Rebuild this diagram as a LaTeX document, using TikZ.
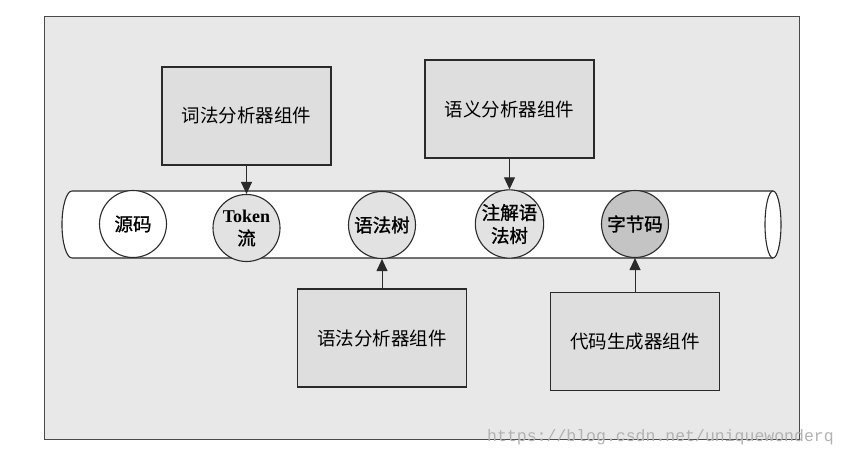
\documentclass[tikz,border=0pt]{standalone}
\usepackage{fontspec}
\setmainfont{Liberation Serif}
\setmonofont{Liberation Mono}
\newfontfamily\cjk{Noto Sans CJK SC}
\newfontfamily\cjkb[FakeBold=1.2]{Noto Sans CJK SC}
\usetikzlibrary{arrows.meta}
\definecolor{framebg}{HTML}{E8E8E8}
\definecolor{boxbg}{HTML}{DEDEDE}
\definecolor{linec}{HTML}{2A2A2A}
\definecolor{lightc}{HTML}{E2E2E2}
\definecolor{darkc}{HTML}{C4C4C4}
\begin{document}
\begin{tikzpicture}[x=1pt,y=-1pt,
  frameline/.style={draw=linec!85, line width=1pt},
  pipeline/.style={draw=linec, line width=1.1pt},
  comp/.style={draw=linec, line width=1.1pt, fill=boxbg, minimum width=169pt, minimum height=98pt, inner sep=0pt, font=\cjk\fontsize{18.5}{20}\selectfont},
  datac/.style={circle, draw=linec, line width=1.1pt, minimum size=67pt, inner sep=0pt, align=center, font=\cjkb\fontsize{18.5}{23}\selectfont},
  flow/.style={-{Triangle[length=12pt,width=11pt]}, draw=linec, line width=1pt}]
\useasboundingbox (0,0) rectangle (848,454);
\fill[white] (0,0) rectangle (848,454);
\draw[frameline, fill=framebg] (44,17) rectangle (799,439);
% pipe
\draw[pipeline, fill=white] (773,191) -- (72,191) arc[start angle=270, end angle=90, x radius=10, y radius=33.5] -- (773,258);
\draw[pipeline, fill=white] (773,224.5) ellipse[x radius=8, y radius=33.5];
% data circles
\node[datac, fill=white] (src) at (133,224) {源码};
\node[datac, fill=lightc] (tok) at (246.5,228) {{\rmfamily\bfseries\fontsize{18}{23}\selectfont Token}\\流};
\node[datac, fill=lightc] (ast) at (382,225) {语法树};
\node[datac, fill=lightc] (aast) at (509.5,224) {注解语\\法树};
\node[datac, fill=darkc] (bc) at (635,224) {字节码};
% components
\node[comp] (lex) at (246.5,116) {词法分析器组件};
\node[comp] (sem) at (509.5,109) {语义分析器组件};
\node[comp] (syn) at (382,338) {语法分析器组件};
\node[comp] (gen) at (635,341.5) {代码生成器组件};
% connectors
\draw[flow] (lex.south) -- (tok.north);
\draw[flow] (sem.south) -- (aast.north);
\draw[flow] (syn.north) -- (ast.south);
\draw[flow] (gen.north) -- (bc.south);
% watermark
\node[anchor=base west, inner sep=0pt, font=\ttfamily\fontsize{16.5}{16}\selectfont, text=black!30] (url) at (487,441) {https://blog.csdn.net/uniquewonderq};
\end{tikzpicture}
\end{document}
